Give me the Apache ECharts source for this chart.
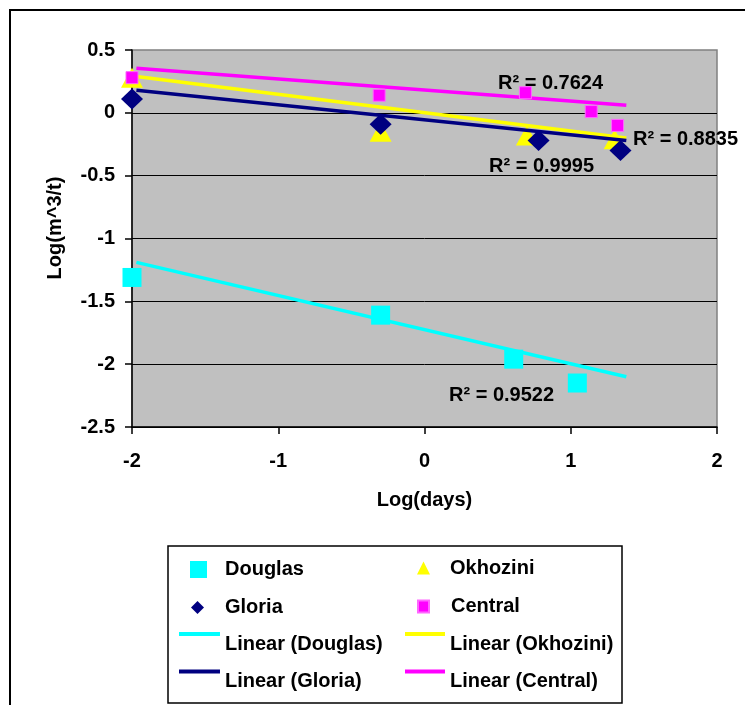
<!DOCTYPE html>
<html>
<head>
<meta charset="utf-8">
<script src="https://cdn.jsdelivr.net/npm/echarts@6/dist/echarts.min.js"></script>
<style>html,body{margin:0;padding:0;background:#fff}#c{width:745px;height:705px}</style>
</head>
<body>
<div id="c"></div>
<script>
// Data
const seriesNames = ['Douglas', 'Okhozini', 'Gloria', 'Central'];
const douglas = [[-2, -1.31], [-0.3, -1.61], [0.61, -1.96], [1.045, -2.15]];
const okhozini = [[-2, 0.28], [-0.3, -0.15], [0.70, -0.18], [1.30, -0.21]];
const gloria = [[-2, 0.11], [-0.3, -0.09], [0.78, -0.22], [1.34, -0.30]];
const central = [[-2, 0.28], [-0.31, 0.14], [0.69, 0.16], [1.14, 0.01], [1.32, -0.10]];
// Trend line end points
const trendDouglas = [[-1.97, -1.19], [1.38, -2.10]];
const trendOkhozini = [[-1.97, 0.29], [1.38, -0.20]];
const trendGloria = [[-1.97, 0.18], [1.38, -0.22]];
const trendCentral = [[-1.97, 0.355], [1.38, 0.06]];
const r2Labels = ['R\u00B2 = 0.9522', 'R\u00B2 = 0.8835', 'R\u00B2 = 0.9995', 'R\u00B2 = 0.7624'];
const xTicks = [-2, -1, 0, 1, 2];
const yTicks = [-2.5, -2, -1.5, -1, -0.5, 0, 0.5];

const FONT = "'Liberation Sans', Arial, sans-serif";
const chart = echarts.init(document.getElementById('c'));

const txt = { fontFamily: FONT, fontWeight: 'bold', fontSize: 20, color: '#000' };

function scatterLegend(name, left, top, w, h, padLeft) {
  return {
    data: [name], left: left, top: top, itemWidth: w, itemHeight: h, padding: 0, itemGap: 0,
    selectedMode: false,
    textStyle: Object.assign({}, txt, { lineHeight: 17, padding: [0, 0, 0, padLeft] })
  };
}
// line icon at the top of a 24px tall box, so that the text sits ~10px below the line
function lineLegend(name, left, top, w) {
  const icon = 'path://M0,0H' + w + 'V4H0Z M0,24H0.01V24.01H0Z';
  return {
    data: [{ name: name, icon: icon }], left: left, top: top, itemWidth: w, itemHeight: 24,
    padding: 0, itemGap: 0, selectedMode: false,
    textStyle: Object.assign({}, txt, { lineHeight: 16 })
  };
}

const option = {
  backgroundColor: '#fff',
  animation: false,
  grid: {
    left: 132, top: 50, width: 585, height: 377,
    show: true, backgroundColor: '#C0C0C0', borderColor: '#808080', borderWidth: 1.5
  },
  xAxis: {
    type: 'value', min: xTicks[0], max: xTicks[xTicks.length - 1], interval: 1,
    name: 'Log(days)', nameLocation: 'middle', nameGap: 63,
    nameTextStyle: Object.assign({}, txt, { lineHeight: 20 }),
    axisLine: { show: true, onZero: false, lineStyle: { color: '#000', width: 1.5 } },
    axisTick: { show: true, length: 7, lineStyle: { color: '#000', width: 1.5 } },
    axisLabel: Object.assign({}, txt, { margin: 24, lineHeight: 20 }),
    splitLine: { show: false }
  },
  yAxis: {
    type: 'value', min: yTicks[0], max: yTicks[yTicks.length - 1], interval: 0.5,
    axisLine: { show: true, onZero: false, lineStyle: { color: '#000', width: 1.5 } },
    axisTick: { show: true, length: 7, lineStyle: { color: '#000', width: 1.5 } },
    axisLabel: Object.assign({}, txt, { margin: 17 }),
    splitLine: { show: true, showMaxLine: false, lineStyle: { color: '#000', width: 1 } }
  },
  legend: [
    scatterLegend('Douglas', 190, 559.5, 17, 17, 13),
    scatterLegend('Gloria', 191, 597.5, 13, 13, 16),
    scatterLegend('Okhozini', 417, 558, 13, 13, 15),
    scatterLegend('Central', 417, 596.5, 11, 12, 17),
    lineLegend('Linear (Douglas)', 179, 632, 41),
    lineLegend('Linear (Gloria)', 179, 669.5, 41),
    lineLegend('Linear (Okhozini)', 405, 632, 40),
    lineLegend('Linear (Central)', 405, 669.5, 40)
  ],
  series: [
    { name: 'Linear (Douglas)', type: 'line', data: trendDouglas, symbol: 'none', z: 3,
      lineStyle: { color: '#00FFFF', width: 3.5 }, itemStyle: { color: '#00FFFF' } },
    { name: 'Linear (Okhozini)', type: 'line', data: trendOkhozini, symbol: 'none', z: 3,
      lineStyle: { color: '#FFFF00', width: 3.5 }, itemStyle: { color: '#FFFF00' } },
    { name: 'Linear (Gloria)', type: 'line', data: trendGloria, symbol: 'none', z: 3,
      lineStyle: { color: '#000080', width: 3.5 }, itemStyle: { color: '#000080' } },
    { name: 'Linear (Central)', type: 'line', data: trendCentral, symbol: 'none', z: 3,
      lineStyle: { color: '#FF00FF', width: 3.5 }, itemStyle: { color: '#FF00FF' } },
    { name: 'Douglas', type: 'scatter', data: douglas, symbol: 'rect', symbolSize: 19, z: 4,
      itemStyle: { color: '#00FFFF', opacity: 1 } },
    { name: 'Okhozini', type: 'scatter', data: okhozini, symbol: 'triangle', symbolSize: [22, 20], z: 2,
      itemStyle: { color: '#FFFF00', opacity: 1 } },
    { name: 'Gloria', type: 'scatter', data: gloria, symbol: 'diamond', symbolSize: [22, 21], z: 4,
      itemStyle: { color: '#000080', opacity: 1 } },
    { name: 'Central', type: 'scatter', data: central, symbol: 'rect', symbolSize: 12, z: 4,
      itemStyle: { color: '#FF00FF', opacity: 1, borderColor: '#FF66FF', borderWidth: 1 } }
  ],
  graphic: [
    { type: 'rect', silent: true, shape: { x: 10, y: 10, width: 800, height: 800 },
      style: { fill: 'none', stroke: '#000', lineWidth: 2 }, z: 100 },
    { type: 'rect', silent: true, shape: { x: 168, y: 546, width: 454, height: 157 },
      style: { fill: 'none', stroke: '#000', lineWidth: 1.5 }, z: 100 },
    { type: 'text', x: 55, y: 228, rotation: Math.PI / 2, z: 100,
      style: { text: 'Log(m^3/t)', align: 'center', verticalAlign: 'middle', fill: '#000', font: 'bold 20px ' + FONT } },
    { type: 'text', x: 449, y: 395, z: 100,
      style: { text: r2Labels[0], align: 'left', verticalAlign: 'middle', fill: '#000', font: 'bold 20px ' + FONT } },
    { type: 'text', x: 633, y: 139.5, z: 100,
      style: { text: r2Labels[1], align: 'left', verticalAlign: 'middle', fill: '#000', font: 'bold 20px ' + FONT } },
    { type: 'text', x: 489, y: 166.5, z: 100,
      style: { text: r2Labels[2], align: 'left', verticalAlign: 'middle', fill: '#000', font: 'bold 20px ' + FONT } },
    { type: 'text', x: 498, y: 83, z: 100,
      style: { text: r2Labels[3], align: 'left', verticalAlign: 'middle', fill: '#000', font: 'bold 20px ' + FONT } }
  ]
};
chart.setOption(option);
</script>
</body>
</html>
